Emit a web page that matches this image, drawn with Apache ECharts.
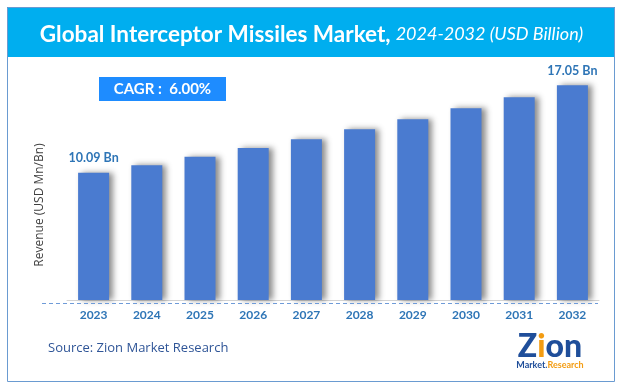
<!DOCTYPE html>
<html><head><meta charset="utf-8">
<script src="https://cdn.jsdelivr.net/npm/echarts@6/dist/echarts.min.js"></script>
<style>html,body{margin:0;padding:0;background:#fff}#c{width:623px;height:390px}</style>
</head><body><div id="c"></div>
<script>
const years = ['2023','2024','2025','2026','2027','2028','2029','2030','2031','2032'];
const revenue = [10.09, 10.70, 11.36, 12.07, 12.76, 13.55, 14.34, 15.21, 16.09, 17.05];
const valueLabels = ['10.09 Bn','','','','','','','','','17.05 Bn'];
const titleMain = 'Global Interceptor Missiles Market,';
const titleSub = '2024-2032 (USD Billion)';
const cagrText = 'CAGR :  6.00%';
const yName = 'Revenue (USD Mn/Bn)';
const sourceText = 'Source: Zion Market Research';

const chart = echarts.init(document.getElementById('c'));
chart.setOption({
  animation: false,
  backgroundColor: '#fff',
  grid: {left: 67, right: 24, top: 48, bottom: 90},
  xAxis: {
    type: 'category', data: years,
    axisLine: {show: true, lineStyle: {color: '#d4d4d4', width: 1}},
    axisTick: {show: false},
    axisLabel: {color: '#2e75b6', fontWeight: 'bold', fontSize: 12, fontFamily: 'Lato', margin: 9}
  },
  yAxis: {type: 'value', min: 0, max: 20, show: false, splitLine: {show: false}},
  graphic: [
    {type: 'rect', shape: {x: 7, y: 7, width: 608, height: 50}, style: {fill: '#00aeef'}, z: 1},
    {type: 'rect', shape: {x: 7.5, y: 7.5, width: 607, height: 374}, style: {fill: 'none', stroke: '#6a9bd1', lineWidth: 1}, z: 2},
    {type: 'rect', shape: {x: 99, y: 77, width: 127, height: 24}, style: {fill: '#1e8cff'}, z: 3},
    {type: 'text', x: 162.5, y: 89, style: {text: cagrText, fill: '#fff', font: 'bold 15px Lato', textAlign: 'center', textVerticalAlign: 'middle'}, z: 4},
    {type: 'text', x: 40, y: 205, rotation: Math.PI / 2, style: {text: yName, fill: '#404040', font: '12px "Open Sans"', textAlign: 'center', textVerticalAlign: 'middle'}, z: 4},
    {type: 'line', shape: {x1: 42, y1: 303.5, x2: 598, y2: 303.5}, style: {stroke: '#6f9bd8', lineWidth: 1, lineDash: [4, 3]}, z: 4},
    {type: 'text', x: 48, y: 348, style: {text: sourceText, fill: '#2f5597', font: '13px "Open Sans"', textVerticalAlign: 'middle'}, z: 4},
    {type: 'text', x: 550, y: 347, style: {
      text: '{z|Z}{i|i}{z|on}', textAlign: 'center', textVerticalAlign: 'middle',
      rich: {z: {font: '900 32px Lato', fill: '#1f4e9a'}, i: {font: '900 32px Lato', fill: '#f39c12'}}
    }, z: 4},
    {type: 'text', x: 550, y: 365, style: {
      text: '{m|Market.}{r|Research}', textAlign: 'center', textVerticalAlign: 'middle',
      rich: {m: {font: 'bold 9px Lato', fill: '#1f4e9a'}, r: {font: 'bold 9px Lato', fill: '#f39c12'}}
    }, z: 4}
  ],
  title: {
    text: '{a|' + titleMain + '} {b|' + titleSub + '}',
    left: 'center', top: 18,
    textStyle: {
      rich: {
        a: {fontFamily: 'Lato', fontWeight: 'bold', fontSize: 22.5, color: '#fff'},
        b: {fontFamily: 'Lato', fontWeight: 'normal', fontStyle: 'italic', fontSize: 18, color: '#fff'}
      }
    }
  },
  series: [{
    type: 'bar', data: revenue, barWidth: 31,
    itemStyle: {color: '#4a7bd0', shadowColor: 'rgba(0,0,0,0.45)', shadowBlur: 6, shadowOffsetX: 4, shadowOffsetY: 0},
    label: {
      show: true, position: 'top', distance: 8,
      formatter: p => valueLabels[p.dataIndex],
      color: '#2e75b6', fontWeight: 'bold', fontSize: 12.5, fontFamily: 'Lato'
    }
  }]
});
</script></body></html>
